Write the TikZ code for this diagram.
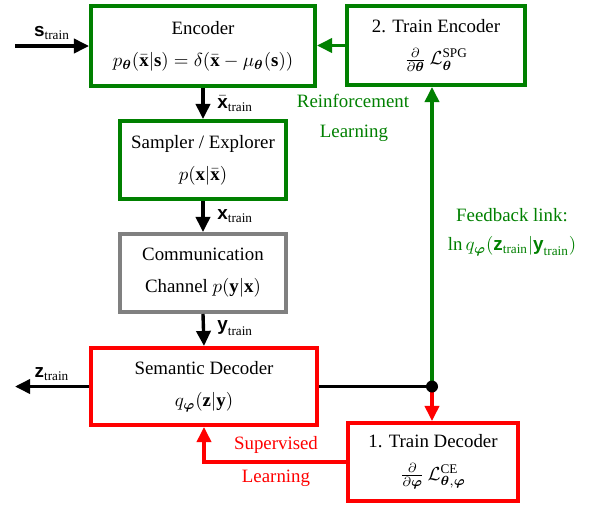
\documentclass[tikz,border=0pt]{standalone}
\usepackage{amsmath,bm}
\usepackage{fontspec}
\setmainfont{Liberation Serif}
\setsansfont{Liberation Sans}
\newfontfamily\tms{Liberation Serif}
\usetikzlibrary{arrows.meta,calc}
\definecolor{dgreen}{RGB}{0,128,0}
\definecolor{cgray}{RGB}{128,128,128}
\newcommand{\bv}[1]{\textsf{\textbf{#1}}}
\newcommand{\tr}{\text{\tms train}}
\def\u{0.53pt}
\tikzset{
  box/.style={draw, line width=2.1pt, align=center, inner sep=0pt, fill=white,
    font=\tms\fontsize{10}{17}\selectfont},
  arr/.style={line width=1.8pt, -{Triangle[length=8pt,width=7.5pt]}},
  plain/.style={line width=1.8pt},
  lbl/.style={inner sep=0pt, font=\tms\fontsize{10}{12}\selectfont},
}
\begin{document}
\begin{tikzpicture}[x=0.53pt, y=-0.53pt]
\useasboundingbox (0,0) rectangle (597,506);
% boxes
\node[box, draw=dgreen, minimum width=224*\u, minimum height=80*\u] (enc) at (203,46)
  {Encoder\\ $p_{\bm{\theta}}(\bar{\mathbf{x}}|\mathbf{s})=\delta(\bar{\mathbf{x}}-\mu_{\bm{\theta}}(\mathbf{s}))$};
\node[box, draw=dgreen, minimum width=178*\u, minimum height=79*\u] (tenc) at (436,45.5)
  {2. Train Encoder\\ $\frac{\partial}{\partial\bm{\theta}}\,\mathcal{L}_{\bm{\theta}}^{\mathrm{SPG}}$};
\node[box, draw=dgreen, minimum width=166*\u, minimum height=78*\u] (samp) at (203,160)
  {Sampler / Explorer\\ $p(\mathbf{x}|\bar{\mathbf{x}})$};
\node[box, draw=cgray, minimum width=166*\u, minimum height=78*\u] (chan) at (203,273)
  {Communication\\ Channel $p(\mathbf{y}|\mathbf{x})$};
\node[box, draw=red, minimum width=226*\u, minimum height=77*\u] (sdec) at (204,386.5)
  {Semantic Decoder\\ $q_{\bm{\varphi}}(\mathbf{z}|\mathbf{y})$};
\node[box, draw=red, minimum width=170*\u, minimum height=78*\u] (tdec) at (433,462)
  {1. Train Decoder\\ $\frac{\partial}{\partial\bm{\varphi}}\,\mathcal{L}_{\bm{\theta},\bm{\varphi}}^{\mathrm{CE}}$};
% coordinates
\coordinate (sin) at (15,46);
\coordinate (zout) at (15,386.5);
\coordinate (dot) at (432,386.5);
% connectors
\draw[arr] (sin) -- (enc.west);
\draw[arr] (enc.south) -- (samp.north);
\draw[arr] (samp.south) -- (chan.north);
\draw[arr] (chan.south) -- (sdec.north);
\draw[arr] (sdec.west) -- (zout);
\draw[plain] (sdec.east) -- (dot);
\draw[arr, dgreen] (dot) -- (dot |- tenc.south);
\draw[arr, red] (dot) -- (dot |- tdec.north);
\draw[arr, dgreen] (tenc.west) -- (enc.east |- tenc.west);
\draw[arr, red] (tdec.west) -| (sdec.south);
\fill (dot) circle (6);
% labels
\node[lbl] (ls) at (52,33) {$\bv{s}_{\tr}$};
\node[lbl, anchor=west] (lxb) at (217,104) {$\bar{\bv{x}}_{\tr}$};
\node[lbl, anchor=west] (lx) at (217,216) {$\bv{x}_{\tr}$};
\node[lbl, anchor=west] (ly) at (217,328) {$\bv{y}_{\tr}$};
\node[lbl] (lz) at (52,374) {$\bv{z}_{\tr}$};
\node[lbl, text=dgreen] (rl1) at (353,101) {Reinforcement};
\node[lbl, text=dgreen] (rl2) at (354,133) {Learning};
\node[lbl, text=dgreen] (fb1) at (512,215) {Feedback link:};
\node[lbl, text=dgreen] (fb2) at (512,246) {$\ln q_{\bm{\varphi}}(\bv{z}_{\tr}|\bv{y}_{\tr})$};
\node[lbl, text=red] (sl1) at (276,445) {Supervised};
\node[lbl, text=red] (sl2) at (276,478) {Learning};
\end{tikzpicture}
\end{document}
